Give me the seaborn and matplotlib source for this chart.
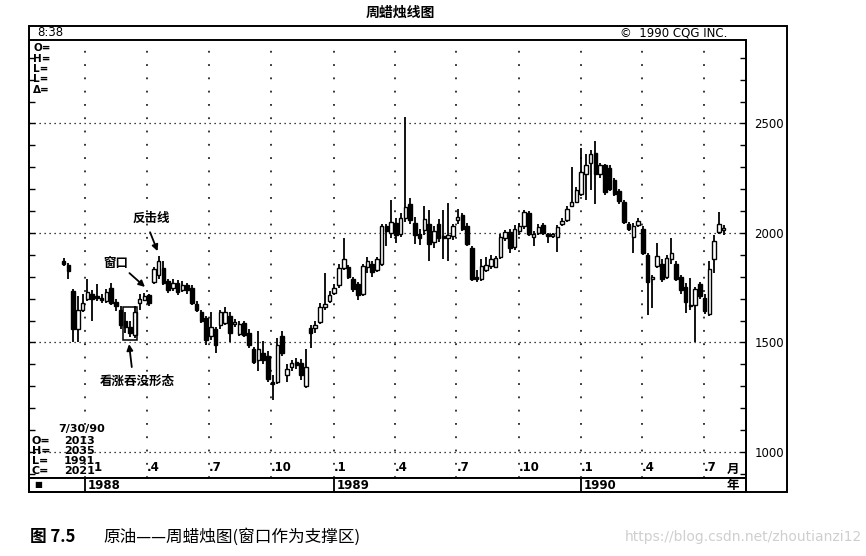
import numpy as np
import pandas as pd
import matplotlib
matplotlib.use('Agg')
import matplotlib.pyplot as plt
import matplotlib.transforms as mtransforms
from matplotlib.patches import Rectangle
from matplotlib.lines import Line2D
import seaborn as sns

# weekly crude oil bars, 1987-11-30 .. 1990-07-30
opens = [1870, 1855, 1735, 1560, 1650, 1700, 1720, 1710, 1700, 1690,
         1750, 1685, 1650, 1600, 1570, 1535, 1680, 1695, 1715, 1775,
         1810, 1840, 1780, 1750, 1770, 1740, 1760, 1750, 1675, 1640,
         1610, 1530, 1560, 1580, 1590, 1620, 1585, 1540, 1590, 1545,
         1470, 1420, 1450, 1440, 1320, 1320, 1530, 1350, 1390, 1410,
         1405, 1300, 1565, 1565, 1595, 1660, 1690, 1725, 1760, 1840,
         1845, 1790, 1765, 1720, 1845, 1860, 1830, 1860, 2030, 2000,
         2045, 1995, 2070, 2130, 2045, 1995, 2015, 2040, 1960, 2040,
         1985, 1975, 1985, 2060, 2080, 2030, 1930, 1800, 1790, 1830,
         1850, 1845, 1890, 1975, 2005, 1935, 2010, 2030, 2090, 1980,
         2000, 2035, 1995, 1985, 1980, 2040, 2060, 2125, 2140, 2180,
         2270, 2320, 2365, 2270, 2310, 2295, 2240, 2190, 2140, 2040,
         1980, 2035, 2020, 1900, 1790, 1850, 1860, 1800, 1880, 1860,
         1800, 1755, 1670, 1670, 1765, 1705, 1630, 1880, 2005, 2013]
highs = [1885, 1865, 1745, 1710, 1720, 1790, 1740, 1765, 1720, 1745,
         1770, 1700, 1665, 1640, 1600, 1665, 1720, 1725, 1720, 1845,
         1895, 1870, 1790, 1790, 1785, 1780, 1770, 1760, 1690, 1650,
         1620, 1640, 1570, 1650, 1660, 1640, 1605, 1600, 1600, 1560,
         1480, 1550, 1505, 1460, 1350, 1520, 1550, 1400, 1420, 1430,
         1425, 1470, 1580, 1600, 1680, 1815, 1735, 1765, 1860, 1975,
         1855, 1800, 1775, 1860, 1890, 1870, 1890, 2040, 2040, 2150,
         2070, 2090, 2530, 2160, 2075, 2020, 2125, 2105, 2030, 2065,
         2105, 2135, 2040, 2110, 2090, 2045, 1940, 1830, 1880, 1890,
         1900, 1895, 1995, 2015, 2020, 2035, 2045, 2105, 2100, 2010,
         2040, 2045, 2000, 2000, 2035, 2070, 2125, 2300, 2210, 2390,
         2360, 2380, 2420, 2320, 2315, 2310, 2250, 2200, 2150, 2050,
         2045, 2070, 2030, 1910, 1810, 1955, 1880, 1900, 1975, 1870,
         1810, 1770, 1795, 1755, 1775, 1720, 1870, 1990, 2095, 2035]
lows = [1850, 1790, 1500, 1500, 1640, 1690, 1600, 1690, 1680, 1680,
        1670, 1645, 1560, 1545, 1525, 1520, 1650, 1690, 1665, 1765,
        1790, 1760, 1725, 1735, 1715, 1730, 1720, 1670, 1640, 1590,
        1490, 1510, 1450, 1560, 1580, 1500, 1570, 1530, 1525, 1475,
        1400, 1370, 1400, 1320, 1235, 1310, 1440, 1320, 1370, 1380,
        1330, 1290, 1475, 1545, 1585, 1650, 1680, 1715, 1750, 1830,
        1790, 1730, 1695, 1710, 1815, 1800, 1820, 1850, 1940, 1975,
        1955, 1980, 2050, 2040, 1950, 1945, 1990, 1870, 1930, 1960,
        1880, 1870, 1970, 2040, 2010, 1940, 1780, 1775, 1780, 1820,
        1835, 1840, 1880, 1965, 1910, 1920, 1990, 2020, 1985, 1940,
        1990, 1990, 1955, 1975, 1915, 2030, 2050, 2120, 2135, 2170,
        2150, 2195, 2130, 2250, 2175, 2190, 2170, 2130, 2040, 2010,
        1910, 2025, 1900, 1625, 1655, 1840, 1775, 1790, 1860, 1780,
        1720, 1635, 1650, 1500, 1700, 1630, 1620, 1815, 1995, 1991]
closes = [1860, 1825, 1560, 1650, 1680, 1730, 1700, 1705, 1695, 1730,
          1680, 1665, 1580, 1570, 1545, 1640, 1700, 1710, 1680, 1835,
          1870, 1770, 1740, 1770, 1730, 1760, 1740, 1680, 1650, 1600,
          1510, 1570, 1490, 1640, 1640, 1545, 1590, 1585, 1535, 1490,
          1410, 1470, 1420, 1335, 1310, 1490, 1450, 1380, 1405, 1395,
          1350, 1390, 1545, 1580, 1660, 1675, 1715, 1750, 1840, 1880,
          1800, 1745, 1715, 1850, 1870, 1820, 1880, 2030, 2010, 2050,
          1990, 2070, 2120, 2060, 1990, 1975, 2065, 1950, 2010, 1975,
          1975, 1990, 2030, 2075, 2020, 1950, 1790, 1790, 1850, 1855,
          1880, 1885, 1980, 2005, 1930, 2020, 2030, 2095, 1995, 1995,
          2025, 2000, 1985, 1990, 2025, 2055, 2110, 2140, 2195, 2280,
          2310, 2360, 2270, 2310, 2185, 2200, 2180, 2145, 2050, 2020,
          2030, 2055, 1910, 1775, 1800, 1895, 1790, 1885, 1910, 1790,
          1740, 1685, 1665, 1745, 1710, 1645, 1835, 1965, 2040, 2021]

price_levels = [1000, 1500, 2000, 2500]
quarter_labels = ['1', '.4', '.7', '.10', '.1', '.4', '.7', '.10', '.1', '.4', '.7']
year_labels = ['1988', '1989', '1990']
info_rows = ['O=', 'H=', 'L=', 'L=', 'Δ=']
last_date = '7/30/90'
last_bar = [('O=', '2013'), ('H=', '2035'), ('L=', '1991'), ('C=', '2021')]

df = pd.DataFrame({'open': opens, 'high': highs, 'low': lows, 'close': closes})
df['date'] = pd.date_range(end='1990-07-30', periods=len(df), freq='7D')
df['up'] = df['close'] >= df['open']
df['base'] = df[['open', 'close']].min(axis=1)
df['body'] = (df['close'] - df['open']).abs().clip(lower=8)

quarters = pd.date_range('1988-01-01', '1990-07-01', freq='QS')
years = pd.to_datetime(['1988-01-01', '1989-01-01', '1990-01-01'])

sns.set_theme(style='white')
plt.rcParams['font.family'] = ['DejaVu Sans', 'Noto Sans CJK SC']
plt.rcParams['text.color'] = 'black'
cjk = ['Noto Sans CJK SC', 'DejaVu Sans']

W, H = 866, 556
fx = lambda x: x / W
fy = lambda y: 1 - y / H

fig = plt.figure(figsize=(W / 100, H / 100), dpi=100, facecolor='white')
ax = fig.add_axes([fx(29), fy(478), fx(746) - fx(29), fy(40) - fy(478)])
ax.set_facecolor('white')

# candles
ax.vlines(df['date'], df['low'], df['high'], color='black', lw=1.3, zorder=2)
ax.bar(df['date'], df['body'], bottom=df['base'], width=5.2,
       color=np.where(df['up'], 'white', 'black'), edgecolor='black',
       linewidth=1.0, zorder=3)

for p in price_levels:
    ax.axhline(p, color='black', lw=0.9, ls=(0, (1, 3)), zorder=1)
for q in quarters:
    ax.axvline(q, color='black', lw=1.1, ls=(0, (1.2, 7.5)), zorder=1)

ax.set_xlim(pd.Timestamp('1987-10-10'), pd.Timestamp('1990-09-01'))
ax.set_ylim(881, 2881)
ax.set_xticks([])
ax.set_yticks(price_levels)
ax.set_yticks(range(900, 2900, 100), minor=True)
ax.tick_params(axis='y', which='both', direction='in', left=True, right=True,
               length=4, width=1, labelleft=False, labelright=True,
               labelsize=8.5, pad=6, colors='black')
for s in ax.spines.values():
    s.set_color('black')
    s.set_linewidth(1.4)

trans = mtransforms.blended_transform_factory(ax.transData, ax.transAxes)
for i, (q, lab) in enumerate(zip(quarters, quarter_labels)):
    off = pd.Timedelta(days=12) if i == 0 else pd.Timedelta(days=0)
    ax.text(q + off, 0.008, lab, transform=trans, ha='left', va='bottom',
            fontsize=8.5, fontweight='bold')

# annotations
ax.text(pd.Timestamp('1988-04-07'), 2068, '反击线', ha='center', va='center',
        fontsize=9, fontweight='bold', family=cjk)
ax.annotate('', xy=(df['date'][20], 1905), xytext=(pd.Timestamp('1988-04-04'), 2015),
            arrowprops=dict(arrowstyle='-|>', color='black', lw=1.3, mutation_scale=9))
ax.text(pd.Timestamp('1988-02-15'), 1860, '窗口', ha='center', va='center',
        fontsize=9, fontweight='bold', family=cjk)
ax.annotate('', xy=(pd.Timestamp('1988-04-01'), 1745), xytext=(pd.Timestamp('1988-03-03'), 1825),
            arrowprops=dict(arrowstyle='-|>', color='black', lw=1.3, mutation_scale=9))
ax.text(pd.Timestamp('1988-03-17'), 1322, '看涨吞没形态', ha='center', va='center',
        fontsize=9, fontweight='bold', family=cjk)
ax.annotate('', xy=(pd.Timestamp('1988-03-05'), 1505), xytext=(pd.Timestamp('1988-03-10'), 1375),
            arrowprops=dict(arrowstyle='-|>', color='black', lw=1.3, mutation_scale=9))
ax.add_patch(Rectangle((df['date'][13] - pd.Timedelta(days=3.5), 1510),
                       pd.Timedelta(days=21), 150, fill=False,
                       edgecolor='black', lw=1.1, zorder=4))

# year strip
axy = fig.add_axes([fx(29), fy(492), fx(746) - fx(29), fy(478) - fy(492)], sharex=ax)
axy.set_facecolor('white')
axy.set_yticks([])
axy.tick_params(axis='x', bottom=False, labelbottom=False)
for s in axy.spines.values():
    s.set_color('black')
    s.set_linewidth(1.4)
for y, lab in zip(years, year_labels):
    axy.axvline(y, color='black', lw=1.3)
    axy.text(y + pd.Timedelta(days=4), 0.45, lab, transform=axy.get_xaxis_transform(),
             ha='left', va='center', fontsize=8.5, fontweight='bold')
fig.text(fx(38), fy(485), '■', ha='center', va='center', fontsize=6)
fig.text(fx(733), fy(486), '年', ha='center', va='center', fontsize=9,
         fontweight='bold', family=cjk)
fig.text(fx(733), fy(469), '月', ha='center', va='center', fontsize=9,
         fontweight='bold', family=cjk)

# frame
fig.add_artist(Rectangle((fx(29), fy(492)), fx(787) - fx(29), fy(26) - fy(492),
                         transform=fig.transFigure, fill=False, edgecolor='black', lw=1.4))
fig.add_artist(Line2D([fx(746), fx(746)], [fy(40), fy(492)], transform=fig.transFigure,
                      color='black', lw=1.4))

# header texts
fig.text(fx(400), fy(13), '周蜡烛线图', ha='center', va='center', fontsize=10,
         fontweight='bold', family=cjk)
fig.text(fx(37), fy(33), '8:38', ha='left', va='center', fontsize=8.5)
fig.text(fx(620), fy(33), '©  1990 CQG INC.', ha='left', va='center', fontsize=8.5)
for k, lab in enumerate(info_rows):
    fig.text(fx(33), fy(48 + k * 10.5), lab, ha='left', va='center', fontsize=7.5,
             fontweight='bold')
fig.text(fx(58), fy(429), last_date, ha='left', va='center', fontsize=8, fontweight='bold')
for k, (lab, val) in enumerate(last_bar):
    fig.text(fx(32), fy(441 + k * 10), lab, ha='left', va='center', fontsize=8, fontweight='bold')
    fig.text(fx(64), fy(441 + k * 10), val, ha='left', va='center', fontsize=8, fontweight='bold')

# caption
fig.text(fx(30), fy(537), '图 7.5', ha='left', va='center', fontsize=12,
         fontweight='bold', family=cjk)
fig.text(fx(103), fy(537), '原油——周蜡烛图(窗口作为支撑区)', ha='left', va='center',
         fontsize=12, family=cjk)
fig.text(fx(862), fy(537), 'https://blog.csdn.net/zhoutianzi12', ha='right', va='center',
         fontsize=10, color='#cfcfcf')

fig.savefig('out.png', dpi=100, facecolor='white')
